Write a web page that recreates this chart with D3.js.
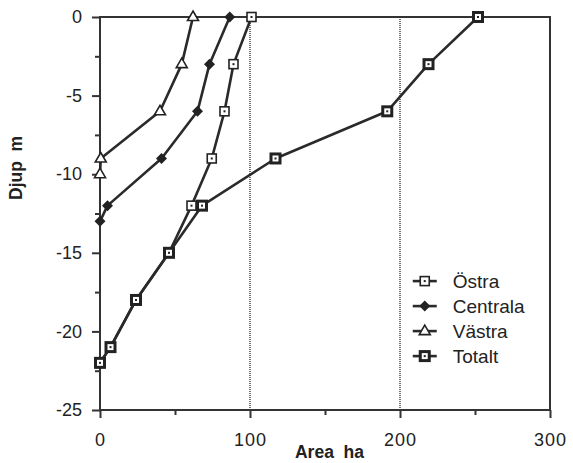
<!DOCTYPE html>
<html>
<head>
<meta charset="utf-8">
<title>Djup - Area</title>
<script src="https://d3js.org/d3.v7.min.js"></script>
<style>
  body { margin: 0; background: #fff; }
  text { font-family: "Liberation Sans", Arial, sans-serif; fill: #222; }
</style>
</head>
<body>
<div id="chart"></div>
<script>
// depths (m) and areas (ha) per basin
const ostraDepth = [0, -3, -6, -9, -12, -15, -18, -21, -22];
const ostraArea = [101, 89, 83, 74.5, 61, 46, 24, 7, 0];
const centralaDepth = [0, -3, -6, -9, -12, -13];
const centralaArea = [86.5, 73, 65, 41, 5, 0];
const vastraDepth = [0, -3, -6, -9, -10];
const vastraArea = [62, 54.5, 40, 0.5, 0];
const totaltDepth = [0, -3, -6, -9, -12, -15, -18, -21, -22];
const totaltArea = [252, 219, 191.5, 117, 68, 46, 24, 7, 0];

const xTicks = [0, 100, 200, 300];
const yTicks = [0, -5, -10, -15, -20, -25];
const gridLines = [100, 200];

const series = [
  {name: "Östra", marker: "openSquare", depth: ostraDepth, area: ostraArea},
  {name: "Centrala", marker: "diamond", depth: centralaDepth, area: centralaArea},
  {name: "Västra", marker: "triangle", depth: vastraDepth, area: vastraArea},
  {name: "Totalt", marker: "boldSquare", depth: totaltDepth, area: totaltArea}
];

const W = 573, H = 463;
const margin = {top: 17, right: 23, bottom: 53, left: 100};
const w = W - margin.left - margin.right;
const h = H - margin.top - margin.bottom;

const svg = d3.select("#chart").append("svg")
    .attr("width", W).attr("height", H);
const g = svg.append("g")
    .attr("transform", "translate(" + margin.left + "," + margin.top + ")");

const x = d3.scaleLinear().domain([0, 300]).range([0, w]);
const y = d3.scaleLinear().domain([0, -25]).range([0, h]);

// dotted reference lines
g.selectAll(".ref").data(gridLines).enter().append("line")
    .attr("x1", d => x(d)).attr("x2", d => x(d))
    .attr("y1", 0).attr("y2", h)
    .attr("stroke", "#333").attr("stroke-width", 1.4)
    .attr("stroke-dasharray", "1,1");

// frame
g.append("rect").attr("width", w).attr("height", h)
    .attr("fill", "none").attr("stroke", "#333").attr("stroke-width", 2);

// axes with minor ticks
const fmt = d => String(d);
const xMinor = d3.axisBottom(x).tickValues([50, 150, 250]).tickSize(5).tickFormat("");
const xMajor = d3.axisBottom(x).tickValues(xTicks).tickSize(8).tickPadding(15).tickFormat(fmt);
const yMinor = d3.axisLeft(y).tickValues([-2.5, -7.5, -12.5, -17.5, -22.5]).tickSize(5).tickFormat("");
const yMajor = d3.axisLeft(y).tickValues(yTicks).tickSize(8).tickPadding(10).tickFormat(fmt);

[xMinor, xMajor].forEach(a => g.append("g").attr("class", "ax xax")
    .attr("transform", "translate(0," + h + ")").call(a));
[yMinor, yMajor].forEach(a => g.append("g").attr("class", "ax yax").call(a));

g.selectAll(".ax .domain").remove();
g.selectAll(".ax line").attr("stroke", "#333").attr("stroke-width", 2);
g.selectAll(".ax text").attr("font-size", 18).attr("fill", "#222")
    .style("font-family", "'Liberation Sans', Arial, sans-serif");
g.selectAll(".xax text").attr("letter-spacing", 1);

// lines
const line = d3.line().x(d => x(d[0])).y(d => y(d[1]));
series.forEach(s => {
  const pts = s.area.map((a, i) => [a, s.depth[i]]);
  s.pts = pts;
  g.append("path").datum(pts).attr("d", line)
      .attr("fill", "none").attr("stroke", "#2a2a2a").attr("stroke-width", 2.6)
      .attr("stroke-linejoin", "round");
});

function drawMarker(sel, type, cx, cy) {
  if (type === "openSquare") {
    sel.append("rect").attr("x", cx - 4.5).attr("y", cy - 4.5).attr("width", 9).attr("height", 9)
        .attr("fill", "#fff").attr("stroke", "#222").attr("stroke-width", 1.6);
    sel.append("rect").attr("x", cx - 1).attr("y", cy - 1).attr("width", 2).attr("height", 2).attr("fill", "#222");
  } else if (type === "boldSquare") {
    sel.append("rect").attr("x", cx - 4.5).attr("y", cy - 4.5).attr("width", 9).attr("height", 9)
        .attr("fill", "#fff").attr("stroke", "#222").attr("stroke-width", 3);
    sel.append("rect").attr("x", cx - 1).attr("y", cy - 1).attr("width", 2).attr("height", 2).attr("fill", "#222");
  } else if (type === "diamond") {
    sel.append("path").attr("d", `M${cx},${cy - 5.5}L${cx + 5.5},${cy}L${cx},${cy + 5.5}L${cx - 5.5},${cy}Z`)
        .attr("fill", "#222");
  } else if (type === "triangle") {
    sel.append("path").attr("d", `M${cx},${cy - 6}L${cx + 5.5},${cy + 3.5}L${cx - 5.5},${cy + 3.5}Z`)
        .attr("fill", "#fff").attr("stroke", "#222").attr("stroke-width", 1.6);
  }
}

series.forEach(s => {
  const mg = g.append("g");
  s.pts.forEach(p => drawMarker(mg, s.marker, x(p[0]), y(p[1])));
});

// legend
const lg = g.append("g").attr("transform", "translate(" + x(208.5) + "," + y(-16.8) + ")");
series.forEach((s, i) => {
  const yy = i * 25;
  lg.append("line").attr("x1", 0).attr("x2", 24).attr("y1", yy).attr("y2", yy)
      .attr("stroke", "#2a2a2a").attr("stroke-width", 2.6);
  drawMarker(lg, s.marker, 12, yy);
  lg.append("text").attr("x", 40).attr("y", yy).attr("dy", "0.36em")
      .attr("font-size", 19).text(s.name);
});

// axis titles
g.append("text").attr("x", x(153)).attr("y", h + 48)
    .attr("text-anchor", "middle").attr("font-size", 17.5).attr("font-weight", "bold")
    .style("white-space", "pre")
    .text("Area  ha");
g.append("text").attr("transform", "rotate(-90)")
    .attr("x", -y(-9.6)).attr("y", -78)
    .attr("text-anchor", "middle").attr("font-size", 17.5).attr("font-weight", "bold")
    .style("white-space", "pre")
    .text("Djup  m");
</script>
</body>
</html>
